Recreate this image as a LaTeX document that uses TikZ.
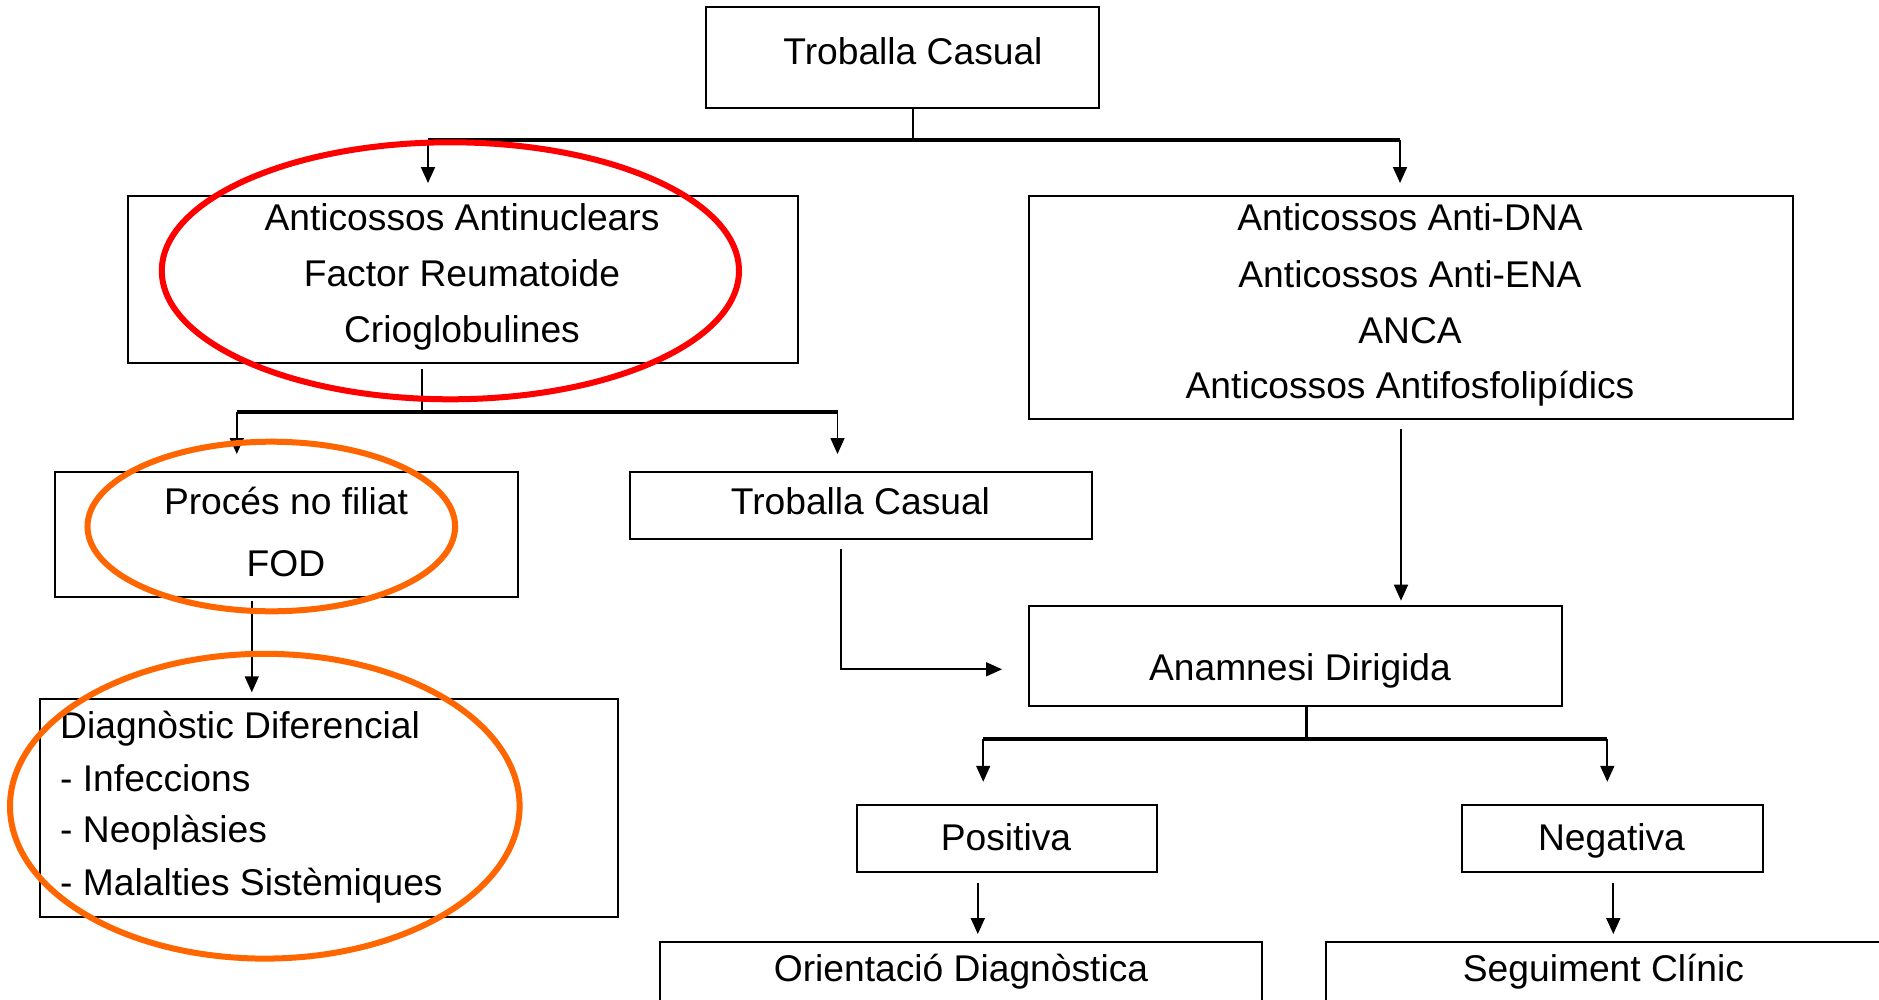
\documentclass[tikz,border=0pt]{standalone}
\usepackage{fontspec}
\setmainfont{Liberation Sans}
\usetikzlibrary{arrows.meta}
\definecolor{ringred}{RGB}{255,0,0}
\definecolor{ringorange}{RGB}{255,102,0}
\begin{document}
\begin{tikzpicture}[x=1pt,y=-1pt,
  box/.style={draw=black, line width=2pt, inner sep=0pt},
  txt/.style={anchor=base, inner sep=0pt, font=\fontsize{37.2}{44}\selectfont},
  txtl/.style={txt, anchor=base west},
  arr/.style={-{Triangle[length=16pt,width=14pt]}, line width=1.7pt},
  stem/.style={line width=2.6pt},
  bus/.style={line width=3.8pt},
  ring/.style={line width=6pt}]

\useasboundingbox (0,0) rectangle (1879,1000);
\fill[white] (0,0) rectangle (1879,1000);

% boxes
\node[box, minimum width=393pt,   minimum height=100.4pt] (top)  at (902.5,57.5) {};
\node[box, minimum width=670.3pt, minimum height=167.3pt] (anl)  at (462.9,279.7) {};
\node[box, minimum width=763.8pt, minimum height=223.3pt] (anr)  at (1410.6,307.7) {};
\node[box, minimum width=463pt,   minimum height=125pt]   (proc) at (286.5,534.2) {};
\node[box, minimum width=462.5pt, minimum height=67pt]    (tc2)  at (860.8,505.5) {};
\node[box, minimum width=578.4pt, minimum height=217.4pt] (diag) at (328.8,808) {};
\node[box, minimum width=533pt,   minimum height=100pt]   (anam) at (1295.2,656) {};
\node[box, minimum width=300.4pt, minimum height=66.7pt]  (pos)  at (1006.8,838.4) {};
\node[box, minimum width=301pt,   minimum height=66.7pt]  (neg)  at (1612.7,838.4) {};
\node[box, minimum width=602pt,   minimum height=68.3pt]  (ori)  at (961,975.9) {};
\node[box, minimum width=564.5pt, minimum height=68.3pt]  (seg)  at (1607.8,975.9) {};

% texts
\node[txt] (t-top) at (913,65) {Troballa Casual};
\node[txt] (t-anl1) at (462,230.7) {Anticossos Antinuclears};
\node[txt] (t-anl2) at (462,286.7) {Factor Reumatoide};
\node[txt] (t-anl3) at (462,342) {Crioglobulines};
\node[txt] (t-anr1) at (1410,230.7) {Anticossos Anti-DNA};
\node[txt] (t-anr2) at (1410,287.3) {Anticossos Anti-ENA};
\node[txt] (t-anr3) at (1410,343.3) {ANCA};
\node[txt] (t-anr4) at (1410,398.3) {Anticossos Antifosfolipídics};
\node[txt] (t-proc1) at (286,514) {Procés no filiat};
\node[txt] (t-proc2) at (286,576.7) {FOD};
\node[txt] (t-tc2) at (860.5,514) {Troballa Casual};
\node[txtl] (t-diag1) at (60,738.3) {Diagnòstic Diferencial};
\node[txtl] (t-diag2) at (60,791.7) {- Infeccions};
\node[txtl] (t-diag3) at (60,842.7) {- Neoplàsies};
\node[txtl] (t-diag4) at (60,895) {- Malalties Sistèmiques};
\node[txt] (t-anam) at (1300,680) {Anamnesi Dirigida};
\node[txt] (t-pos) at (1006,850) {Positiva};
\node[txt] (t-neg) at (1611.5,850) {Negativa};
\node[txt] (t-ori) at (961,981.5) {Orientació Diagnòstica};
\node[txt] (t-seg) at (1603.5,981.5) {Seguiment Clínic};

% first split
\coordinate (s1)  at (913,140.3);
\coordinate (s1l) at (428,140.3);
\coordinate (s1r) at (1400,140.3);
\draw[stem] (top.south -| s1) -- (s1);
\draw[bus] (s1l) -- (s1r);
\draw[arr, shorten >=12pt] (s1l) -- (anl.north -| s1l);
\draw[arr, shorten >=12pt] (s1r) -- (anr.north -| s1r);

% second split
\coordinate (s2)  at (422,412);
\coordinate (s2l) at (236.8,412);
\coordinate (s2r) at (837.5,412);
\draw[stem, shorten <=5pt] (anl.south -| s2) -- (s2);
\draw[bus] (s2l) -- (s2r);
\draw[arr, shorten >=16.7pt] (s2l) -- (proc.north -| s2l);
\draw[arr, shorten >=17pt] (s2r) -- (tc2.north -| s2r);

% single arrows
\coordinate (k0) at (251.8,0);
\draw[arr, shorten <=3pt, shorten >=6pt] (proc.south -| k0) -- (diag.north -| k0);
\coordinate (k1) at (841,669.3);
\draw[arr, shorten <=9pt, shorten >=25.7pt] (tc2.south -| k1) |- (anam.west |- k1);
\coordinate (k2) at (1401,0);
\draw[arr, shorten <=8.4pt, shorten >=4.3pt] (anr.south -| k2) -- (anam.north -| k2);

% third split
\coordinate (s3)  at (1306.3,739);
\coordinate (s3l) at (983.2,739);
\coordinate (s3r) at (1607.3,739);
\draw[stem] (anam.south -| s3) -- (s3);
\draw[bus] (s3l) -- (s3r);
\draw[arr, shorten >=22.3pt] (s3l) -- (pos.north -| s3l);
\draw[arr, shorten >=22.3pt] (s3r) -- (neg.north -| s3r);

\coordinate (k3) at (977.8,0);
\coordinate (k4) at (1613.3,0);
\draw[arr, shorten <=10pt, shorten >=6.7pt] (pos.south -| k3) -- (ori.north -| k3);
\draw[arr, shorten <=10pt, shorten >=6.7pt] (neg.south -| k4) -- (seg.north -| k4);

% highlight rings
\draw[ring, ringred] (450.4,270.8) ellipse [x radius=288.6pt, y radius=128.5pt];
\draw[ring, ringorange] (271.3,526.5) ellipse [x radius=183.8pt, y radius=84.8pt];
\draw[ring, ringorange] (264.8,806.2) ellipse [x radius=254.8pt, y radius=152.4pt];
\end{tikzpicture}
\end{document}
